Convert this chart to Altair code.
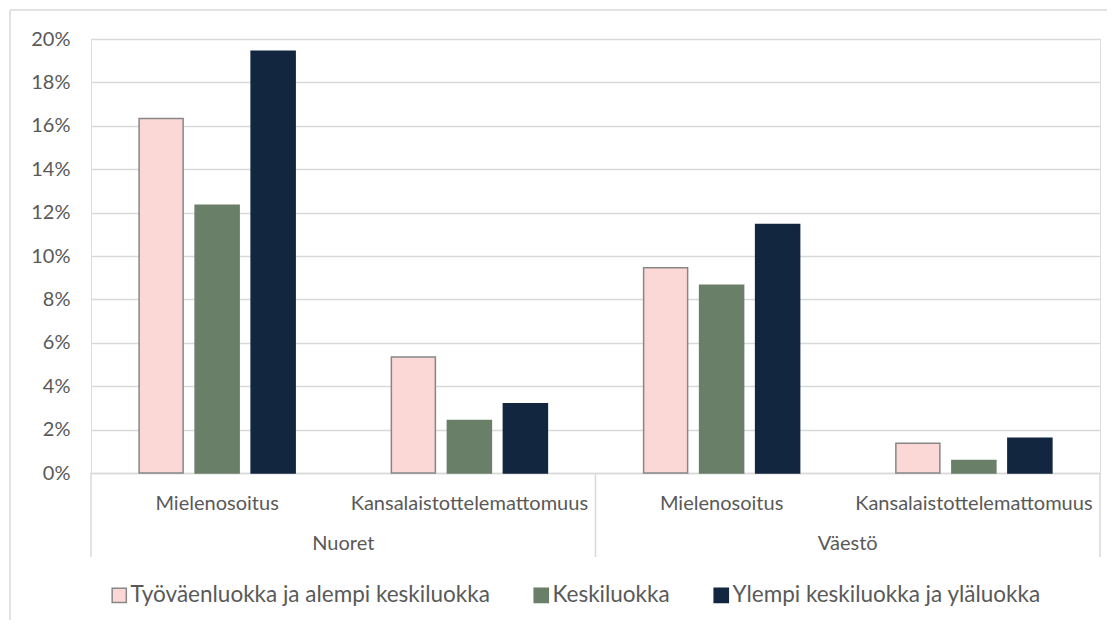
import altair as alt
import pandas as pd

groups = ["Nuoret", "Nuoret", "Väestö", "Väestö"]
subcats = ["Mielenosoitus", "Kansalaistottelemattomuus", "Mielenosoitus", "Kansalaistottelemattomuus"]
series = ["Työväenluokka ja alempi keskiluokka", "Keskiluokka", "Ylempi keskiluokka ja yläluokka"]
# values per series, in the order of the four categories above
tyovaen = [0.1634, 0.0535, 0.0946, 0.0137]
keski = [0.1234, 0.0242, 0.0865, 0.0058]
ylempi = [0.1944, 0.0319, 0.1145, 0.0160]
colors = ["#FBD8D5", "#6A7F68", "#12263F"]
strokes = ["#878787", "#6A7F68", "#12263F"]
yticks = [0.0, 0.02, 0.04, 0.06, 0.08, 0.10, 0.12, 0.14, 0.16, 0.18, 0.20]

cats = [f"{g}|{s}" for g, s in zip(groups, subcats)]
rows = []
for name, vals in zip(series, [tyovaen, keski, ylempi]):
    for c, v in zip(cats, vals):
        rows.append({"cat": c, "series": name, "value": v})
df = pd.DataFrame(rows)

W, H = 1009, 434
FONT = "Lato"
GRAY = "#595959"
LINE = "#D9D9D9"

xscale = alt.Scale(domain=cats, paddingInner=0, paddingOuter=0)

legend_kw = dict(title=None, orient="none", legendX=17, legendY=545,
                 direction="horizontal", symbolType="square", symbolSize=200,
                 symbolStrokeWidth=1.5, labelFontSize=22.5, labelFont=FONT,
                 labelColor=GRAY, columnPadding=40, labelOffset=0, labelLimit=0)

bars = alt.Chart(df).mark_bar(strokeWidth=1.5).encode(
    x=alt.X("cat:N", scale=xscale, sort=cats,
            axis=alt.Axis(title=None, labelExpr="split(datum.label, '|')[1]",
                          labelAngle=0, ticks=False, domainColor=LINE, domainWidth=1.5,
                          labelPadding=20, labelFontSize=20, labelColor=GRAY, labelFont=FONT,
                          labelLimit=0)),
    xOffset=alt.XOffset("series:N", sort=series,
                        scale=alt.Scale(domain=series, paddingInner=0.214, paddingOuter=0.859)),
    y=alt.Y("value:Q", scale=alt.Scale(domain=[0, 0.2], nice=False),
            axis=alt.Axis(title=None, format=".0%", values=yticks, labelOverlap=False,
                          ticks=False, domain=False, gridColor=LINE, gridWidth=1.5,
                          labelPadding=21, labelFontSize=20, labelColor=GRAY, labelFont=FONT)),
    fill=alt.Fill("series:N", sort=series, scale=alt.Scale(domain=series, range=colors),
                  legend=alt.Legend(**legend_kw)),
    stroke=alt.Stroke("series:N", sort=series, scale=alt.Scale(domain=series, range=strokes),
                      legend=alt.Legend(**legend_kw)),
)

grp_df = pd.DataFrame({"cat": [cats[0], cats[2]], "label": [groups[0], groups[2]]})
grp_text = alt.Chart(grp_df).mark_text(font=FONT, fontSize=20, color=GRAY, baseline="middle").encode(
    x=alt.X("cat:N", bandPosition=1, sort=cats),
    y=alt.value(H + 71),
    text="label:N",
)

sep_left = alt.Chart(pd.DataFrame({"cat": [cats[0], cats[2]]})).mark_rule(color=LINE, strokeWidth=1.5).encode(
    x=alt.X("cat:N", bandPosition=0, sort=cats),
    y=alt.value(H),
    y2=alt.value(H + 84),
)
sep_right = alt.Chart(pd.DataFrame({"cat": [cats[3]]})).mark_rule(color=LINE, strokeWidth=1.5).encode(
    x=alt.X("cat:N", bandPosition=1, sort=cats),
    y=alt.value(H),
    y2=alt.value(H + 84),
)

one = pd.DataFrame({"a": [0]})
border_top = alt.Chart(one).mark_rule(color=LINE, strokeWidth=1.5).encode(
    x=alt.value(-81), x2=alt.value(W + 60), y=alt.value(-29),
)
border_left = alt.Chart(one).mark_rule(color=LINE, strokeWidth=1.5).encode(
    x=alt.value(-81), y=alt.value(-29), y2=alt.value(H + 300),
)

chart = alt.layer(border_top, border_left, bars, sep_left, sep_right, grp_text).properties(
    width=W, height=H,
    autosize=alt.AutoSizeParams(type="none"),
    padding={"left": 83, "top": 31, "right": 7, "bottom": 147},
).configure_view(stroke=None).configure(background="transparent")

chart.save("out.html", embed_options={"renderer": "svg", "actions": False})
